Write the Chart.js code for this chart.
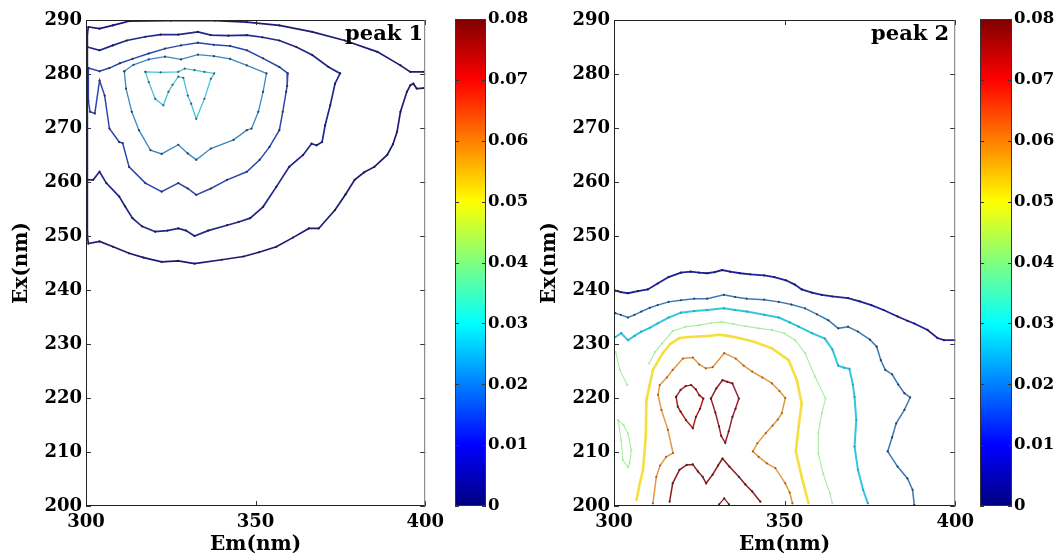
<!DOCTYPE html>
<html>
<head>
<meta charset="utf-8">
<script src="https://cdn.jsdelivr.net/npm/chart.js@4"></script>
<style>
  body { margin: 0; background: #fff; }
  #wrap { position: relative; width: 1062px; height: 556px; }
  canvas { position: absolute; top: 0; }
</style>
</head>
<body>
<div id="wrap">
  <canvas id="peak1" width="450" height="556" style="left:0"></canvas>
  <canvas id="bar1" width="100" height="556" style="left:450px"></canvas>
  <canvas id="peak2" width="440" height="556" style="left:540px"></canvas>
  <canvas id="bar2" width="87" height="556" style="left:975px"></canvas>
</div>
<script>
// ejes y barra de color
const emTicks = [300, 350, 400];
const exTicks = [200, 210, 220, 230, 240, 250, 260, 270, 280, 290];
const cbTicks = [0, 0.01, 0.02, 0.03, 0.04, 0.05, 0.06, 0.07, 0.08];

// niveles de contorno
const peak1Levels = [0.002, 0.005, 0.01, 0.02, 0.03];
const peak2Levels = [0.005, 0.02, 0.03, 0.04, 0.04, 0.04, 0.05, 0.06, 0.07, 0.07, 0.07, 0.07];

// peak 1: curvas (Em, Ex)
const p1Level1 = [[399.5,280.4],[395.6,280.4],[392.7,281.6],[385.9,284.1],[376.3,286.2],[366.7,287.8],[357,289],[347.4,289.6],[338,289.9],[325,289.9],[312.7,289.8],[307.9,289],[304,288.4],[300.7,288.7],[300.4,287.5],[300.4,250],[300.7,248.6],[304,249],[308,248],[312.7,246.8],[317,246],[322.3,245.2],[327.2,245.4],[332,244.9],[340,245.6],[346.4,246.2],[351,247],[356.1,248],[361,249.7],[365.7,251.4],[368.6,251.4],[373.4,254.8],[376.5,257.7],[379.2,260.4],[382,261.8],[385,262.8],[388.8,265],[390.5,267],[391.7,269.3],[392.7,273],[394.6,276.7],[395.6,277.9],[396.5,278.2],[397.5,277.3],[399.5,277.4]];
const p1Level2 = [[300.4,285],[304,284.4],[307.9,285.3],[312,286.2],[317.5,286.9],[322,287.3],[327.2,287.3],[333,287.8],[336.8,287.2],[342,287.1],[347.4,287.2],[352,286.8],[357,286.2],[362,285],[366.7,283.5],[371.5,281.3],[374.9,280.1],[373.4,278.2],[372,274.2],[370.5,270.5],[369.6,267.4],[368,266.8],[366.5,267.1],[364,265],[359.9,262.8],[356.1,259.1],[352.2,255.4],[348.4,253.3],[345,252.6],[341.6,252],[336,251],[332,250],[329.5,251],[327.2,251.4],[324,251],[320.4,250.8],[316.5,251.8],[313.7,253.3],[311.5,255.5],[309.8,257.3],[306,259.8],[304,261.9],[302.1,260.4],[300.4,260.4]];
const p1Level3 = [[300.7,281.1],[304,280.5],[306.9,281.1],[310,282],[313.7,282.8],[318.5,283.8],[323.3,284.7],[328,285.3],[333,285.8],[337.7,285.4],[342.5,285.2],[347.4,284.4],[352.2,282.9],[357,281.3],[359.5,280.1],[359.3,277.8],[359,276.7],[358,273],[357,269.6],[354.1,266.5],[351.2,264.1],[347.4,261.9],[341.6,260.4],[336.8,258.8],[332.5,257.6],[330,258.8],[327.2,259.8],[322.3,258.2],[317.5,259.8],[312.7,262.8],[310.8,267.2],[309.8,267.4],[306.9,269.9],[305.5,276],[304,278.8],[302.6,272.7],[301.2,273],[300.7,275],[300.7,281.1]];
const p1Level4 = [[311.3,280.5],[314,281.7],[318.5,282.7],[323.3,283.2],[328,282.7],[333,283.6],[337.7,283.3],[342.5,282.8],[347.4,281.6],[353.2,280.1],[352.2,276.7],[350.8,273],[348.8,269.9],[347.4,269.6],[343.5,267.8],[336.8,266.2],[332.5,264.1],[330,265.3],[327.2,266.9],[322.3,265.2],[319,265.9],[315.6,269.6],[313.5,273],[311.8,277.3],[311.3,280.5]];
const p1Level5 = [[317.5,280.4],[322,280.3],[327.2,280.4],[329.1,281],[332,280.7],[334.9,280.4],[337.8,280.1],[336.8,279.1],[334.9,275.4],[332.5,271.7],[331,274.5],[330,276],[328.7,279.3],[327.2,279.5],[325.5,278],[324.3,276.7],[322.8,274.2],[320.4,275.4],[318.5,278.5],[317.5,280.4]];

// peak 2
const p2Level1 = [[300.4,239.9],[302,239.6],[304.1,239.4],[307,239.8],[309.9,240.1],[312.8,241.2],[316,242.4],[319.6,243.2],[322.5,243.4],[325,243.2],[327.3,243.1],[329.5,243.3],[331.7,243.7],[334,243.4],[337,243.1],[340,242.9],[344,242.7],[347,242.4],[350.4,241.8],[353,241],[355,240.1],[358,239.5],[360.9,239.1],[364,238.8],[368.6,238.5],[372,237.9],[375.4,237.2],[379,236.3],[383.1,235.1],[386,234.3],[388,233.8],[391.9,232.6],[394.8,231.1],[396.7,230.7],[400,230.7]];
const p2Level2 = [[300.4,235.7],[302,235.4],[304.1,234.9],[306,235.4],[308,236],[310.5,236.7],[312.8,237.2],[316,237.8],[319.6,238.1],[323.5,238.4],[327.3,238.4],[332.2,239.1],[335.5,238.7],[338.9,238.4],[344,238.2],[348.3,237.8],[352,237.3],[356,236.6],[359.5,235.5],[362.8,234.4],[365.7,232.9],[368.6,233.2],[371.5,232.3],[375,230.8],[377,229.5],[378.2,227],[379.5,225.2],[381.5,224.4],[383.3,222.5],[385.1,220.9],[386.8,220.1],[385.1,217.8],[382.7,215.3],[381.5,212.7],[380.2,210.1],[383.1,207.3],[386,205.1],[387.5,203],[388,200.2]];
const p2Level3 = [[300.4,231.3],[302.1,232],[304.1,230.7],[306,231.5],[308,232.3],[310.5,233],[312.8,233.8],[316,234.9],[319.6,235.8],[323.5,236.1],[327.3,236.3],[332.2,236.6],[335.5,236.3],[338.9,236],[344,235.4],[348.3,234.9],[351.5,234],[354.1,233.2],[358,232],[361.8,231],[364,229],[365.7,226],[367.5,225.6],[369,225.4],[370,222.5],[370.5,220.2],[371,215.9],[370.5,211],[371.5,206.7],[373,203],[374.4,200.5]];
const p2Level4 = [[310.3,226.4],[312,228.5],[314.1,230.1],[317.2,232.4],[321,233.2],[325,233.5],[328.5,233.9],[331.6,234.1],[335,233.7],[338.6,233.3],[342.5,232.9],[346.3,232.6],[349.9,232],[353.1,230.7],[356,228.3],[358.9,224],[362,219.9],[360.9,217.2],[359.9,213.5],[359.9,209.7],[361.3,206],[363.3,202.3],[364,200.5]];
const p2Level4b = [[300.5,228.5],[301.7,225.2],[303.9,222.4]];
const p2Level4c = [[301.2,215.9],[302.8,215],[304.1,213.4],[305.1,210.3],[304.6,208],[304.1,207.2],[302.6,208.5],[302.1,212.2],[301.2,215.9]];
const p2Level5 = [[306.6,201.1],[307.5,204],[308.5,206.7],[309.3,212.8],[309.5,219.6],[310.5,222.5],[311.4,225.2],[314.3,228.3],[316.5,230],[319.2,231.1],[322,231.3],[325,231.4],[328,231.5],[330.8,231.7],[333.5,231.5],[336.6,231.1],[341,230.4],[346.3,229.2],[351.2,227],[353.6,223.3],[355,219],[354.1,214.7],[353.3,210.1],[355,205.4],[357,200.5]];
const p2Level6 = [[311.4,200.5],[312.4,205.4],[313.5,207.5],[315.3,209.1],[317.3,209.8],[315.8,214.1],[313.9,217.8],[312.9,220.6],[313.4,222.4],[315.5,223.8],[317.2,225.2],[320.2,227.3],[323.1,227.5],[325,226.2],[326.9,225.5],[328.9,225.7],[332.3,228.3],[335.7,227.3],[338,226],[340.5,224.9],[343.5,223.8],[346.3,222.7],[348.5,221.3],[350.2,220],[349.2,217.2],[348,216],[346.5,214.9],[344.5,213.5],[342,211.6],[340.7,210.1],[342.4,209.1],[344.8,207.9],[347.3,207],[350.2,204.2],[351.5,202.5],[352.3,200.5]];
const p2Level7a = [[318.2,220.2],[319.5,221.5],[321,222.2],[322.6,222.4],[324,221.6],[325,220.5],[326.2,219.9],[325.2,218],[324,216.5],[323.1,214.4],[321.1,215.9],[319.5,217.5],[318.7,218.4],[318.2,220.2]];
const p2Level7b = [[328.4,219.9],[330,221.8],[331.8,223.3],[333.2,223],[334.7,222.7],[336.6,219.9],[335.6,218],[334.7,216.5],[333.6,213.8],[332.6,211.7],[331.4,213],[330.8,214.7],[329.7,217.3],[328.4,219.9]];
const p2Level7c = [[316.3,200.8],[317.2,204.2],[319.2,206.7],[321.3,207.6],[323.1,207.7],[324.6,206.4],[326,205.4],[327,204.2],[328.9,205.8],[330.5,207.5],[331.8,208.8],[333.8,207.3],[336.6,205.4],[338.5,204],[340.5,202.7],[342.9,200.8]];
const p2Level7d = [[330.8,200.3],[332.3,201.4],[333.7,200.3]];

const peak1Lines = [p1Level1, p1Level2, p1Level3, p1Level4, p1Level5];
const peak2Lines = [p2Level1, p2Level2, p2Level3, p2Level4, p2Level4b, p2Level4c, p2Level5, p2Level6, p2Level7a, p2Level7b, p2Level7c, p2Level7d];

// estilos (colores jet vistos en la imagen)
const peak1Colors = ['#1c1c78', '#22288e', '#2a48b0', '#3a88c4', '#48c4d4'];
const peak1Widths = [1.7, 1.7, 1.5, 1.3, 1.3];
const peak1Marks = ['#202030', '#202030', '#303040', '#304050', '#306070'];
const peak2Colors = ['#2020a0', '#3b7ab8', '#30c8e0', '#a8eca0', '#a8eca0', '#a8eca0', '#f5e040', '#e09a40', '#b81c1c', '#9a2530', '#8e1c22', '#8e1c22'];
const peak2Widths = [1.8, 1.5, 2, 1.1, 1.1, 1.1, 2.6, 1.5, 1.5, 1.5, 1.5, 1.3];
const peak2Marks = ['#202040', '#304050', '#30a0b0', '#a8eca0', '#a8eca0', '#a8eca0', '#f0d840', '#a06030', '#502020', '#502020', '#502020', '#502020'];

const FONT = "'DejaVu Serif', 'Liberation Serif', serif";
Chart.defaults.font.family = FONT;
Chart.defaults.font.weight = 'bold';
Chart.defaults.color = '#000';

// jet para la barra de color
const jetStops = [[0, '#00007f'], [0.125, '#0000ff'], [0.375, '#00ffff'], [0.625, '#ffff00'], [0.875, '#ff0000'], [1, '#7f0000']];

// marco con ticks hacia dentro y etiqueta "peak n"
const frame = {
  id: 'frame',
  afterDraw(chart, args, opts) {
    const {ctx, chartArea: a, scales} = chart;
    ctx.save();
    ctx.lineWidth = 1;
    ctx.strokeStyle = '#333';
    const seg = (x1, y1, x2, y2) => { ctx.beginPath(); ctx.moveTo(x1, y1); ctx.lineTo(x2, y2); ctx.stroke(); };
    scales.y.ticks.forEach(t => {
      const y = Math.round(scales.y.getPixelForValue(t.value)) + 0.5;
      seg(a.left, y, a.left + 5, y);
      seg(a.right - 5, y, a.right, y);
    });
    scales.x.ticks.forEach(t => {
      const x = Math.round(scales.x.getPixelForValue(t.value)) + 0.5;
      seg(x, a.bottom, x, a.bottom - 5);
      seg(x, a.top, x, a.top + 5);
    });
    ctx.strokeStyle = '#222';
    seg(a.left + 0.5, a.top, a.left + 0.5, a.bottom);
    seg(a.left, a.bottom - 0.5, a.right, a.bottom - 0.5);
    seg(a.left, a.top + 0.5, a.right, a.top + 0.5);
    ctx.strokeStyle = '#777';
    seg(a.right - 0.5, a.top, a.right - 0.5, a.bottom);
    ctx.fillStyle = '#000';
    ctx.font = 'bold 21px ' + FONT;
    ctx.textAlign = 'right';
    ctx.textBaseline = 'alphabetic';
    ctx.fillText(opts.label, a.right - opts.dx, a.top + 20);
    ctx.restore();
  }
};

function makePeak(id, lines, colors, widths, marks, yWidth, padRight, titlePad, label, dx) {
  return new Chart(document.getElementById(id), {
    type: 'scatter',
    data: {
      datasets: lines.map((pts, i) => ({
        data: pts.map(p => ({x: p[0], y: p[1]})),
        showLine: true,
        borderColor: colors[i],
        borderWidth: widths[i],
        pointRadius: 1.1,
        pointBorderWidth: 0,
        pointBackgroundColor: marks[i],
        tension: 0
      }))
    },
    options: {
      responsive: false,
      animation: false,
      events: [],
      layout: {padding: {left: 0, right: padRight, top: 20, bottom: 0}},
      plugins: {legend: {display: false}, tooltip: {enabled: false}, frame: {label: label, dx: dx}},
      scales: {
        x: {
          type: 'linear', min: 300, max: 400,
          afterBuildTicks: s => { s.ticks = emTicks.map(v => ({value: v})); },
          afterFit: s => { s.height = 50; },
          grid: {display: false, drawTicks: false},
          border: {display: false},
          ticks: {font: {size: 18, weight: 'bold'}, padding: 6, maxRotation: 0},
          title: {display: true, text: 'Em(nm)', font: {size: 20, weight: 'bold', lineHeight: 1}, padding: {top: 0, bottom: 1}}
        },
        y: {
          type: 'linear', min: 200, max: 290,
          afterBuildTicks: s => { s.ticks = exTicks.map(v => ({value: v})); },
          afterFit: s => { s.width = yWidth; },
          grid: {display: false, drawTicks: false},
          border: {display: false},
          ticks: {font: {size: 18, weight: 'bold'}, padding: 4},
          title: {display: true, text: 'Ex(nm)', font: {size: 20, weight: 'bold', lineHeight: 1}, padding: {top: titlePad, bottom: 0}}
        }
      }
    },
    plugins: [frame]
  });
}

// barra de color
const cbFrame = {
  id: 'cbFrame',
  afterDraw(chart) {
    const {ctx, chartArea: a, scales} = chart;
    ctx.save();
    ctx.strokeStyle = '#333';
    ctx.lineWidth = 1;
    scales.y.ticks.forEach(t => {
      const y = Math.round(scales.y.getPixelForValue(t.value)) + 0.5;
      ctx.beginPath();
      ctx.moveTo(a.left, y); ctx.lineTo(a.left + 4, y);
      ctx.moveTo(a.right - 4, y); ctx.lineTo(a.right, y);
      ctx.stroke();
    });
    ctx.strokeRect(a.left + 0.5, a.top + 0.5, a.width - 1, a.height - 1);
    ctx.restore();
  }
};

function makeBar(id, padLeft, axisWidth) {
  return new Chart(document.getElementById(id), {
    type: 'bar',
    data: {
      labels: ['c'],
      datasets: [{
        data: [[cbTicks[0], cbTicks[cbTicks.length - 1]]],
        backgroundColor: ctx => {
          const a = ctx.chart.chartArea;
          if (!a) return '#00f';
          const g = ctx.chart.ctx.createLinearGradient(0, a.bottom, 0, a.top);
          jetStops.forEach(s => g.addColorStop(s[0], s[1]));
          return g;
        },
        borderWidth: 0,
        barPercentage: 1,
        categoryPercentage: 1
      }]
    },
    options: {
      responsive: false,
      animation: false,
      events: [],
      layout: {padding: {left: padLeft, right: 0, top: 19, bottom: 50}},
      plugins: {legend: {display: false}, tooltip: {enabled: false}},
      scales: {
        x: {display: false},
        y: {
          position: 'right', min: 0, max: 0.08,
          afterBuildTicks: s => { s.ticks = cbTicks.map(v => ({value: v})); },
          afterFit: s => { s.width = axisWidth; },
          grid: {display: false, drawTicks: false},
          border: {display: false},
          ticks: {font: {size: 16.5, weight: 'bold'}, padding: 2, callback: v => v === 0 ? '0' : v.toFixed(2)}
        }
      }
    },
    plugins: [cbFrame]
  });
}

makePeak('peak1', peak1Lines, peak1Colors, peak1Widths, peak1Marks, 86, 18, 12, 'peak 1', 2);
makeBar('bar1', 5, 64);
makePeak('peak2', peak2Lines, peak2Colors, peak2Widths, peak2Marks, 74, 22, 0, 'peak 2', 6);
makeBar('bar2', 5, 50);
</script>
</body>
</html>
